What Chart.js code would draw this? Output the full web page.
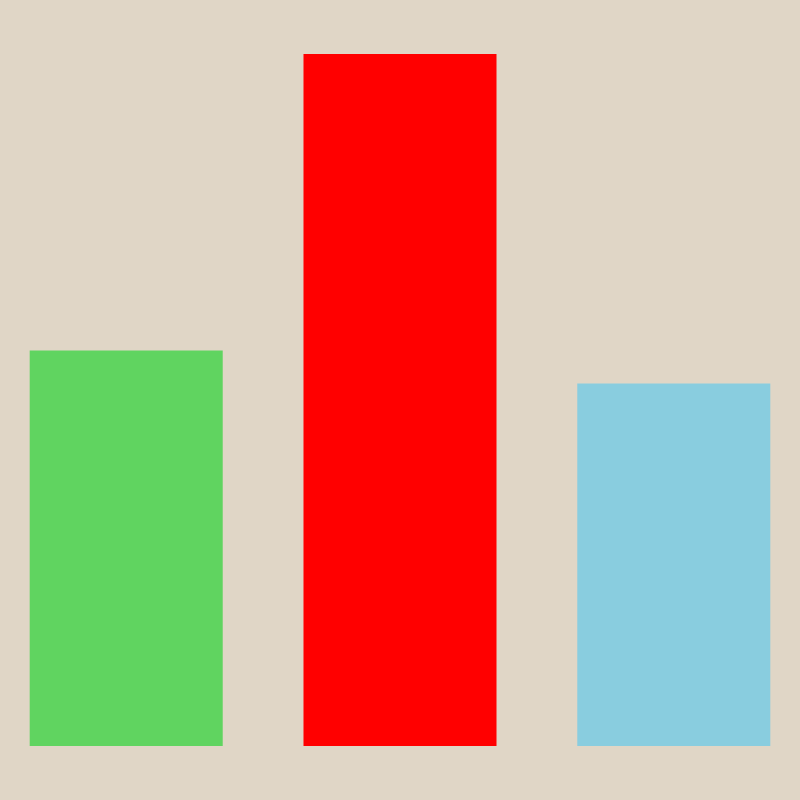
<!DOCTYPE html>
<html>
<head>
<meta charset="utf-8">
<script src="https://cdn.jsdelivr.net/npm/chart.js@4/dist/chart.umd.min.js"></script>
<style>
  html, body { margin: 0; padding: 0; background: #e0d6c6; }
  #wrap { width: 800px; height: 800px; position: relative; }
</style>
</head>
<body>
<div id="wrap"><canvas id="chart"></canvas></div>
<script>
const labels = ["Green", "Red", "Blue"]
const values = [12, 21, 11]
const colors = ["#60d460", "#ff0000", "#89cddf"]

// bars sit at index positions 0,1,2 on a linear x scale
const points = values.map((v, i) => ({ x: i, y: v }))

const ctx = document.getElementById('chart')
new Chart(ctx, {
  type: 'bar',
  data: {
    labels: labels,
    datasets: [{
      data: points,
      backgroundColor: colors,
      borderWidth: 0,
      categoryPercentage: 1,
      barPercentage: 0.705
    }]
  },
  options: {
    responsive: true,
    maintainAspectRatio: false,
    animation: false,
    layout: {
      padding: { top: 54, bottom: 54, left: 0, right: 0 }
    },
    scales: {
      x: {
        type: 'linear',
        display: false,
        offset: false,
        min: -0.461,
        max: 2.461,
        ticks: { stepSize: 1, includeBounds: false }
      },
      y: { display: false, min: 0, max: 21 }
    },
    plugins: {
      legend: { display: false },
      tooltip: { enabled: false }
    }
  }
})
</script>
</body>
</html>
